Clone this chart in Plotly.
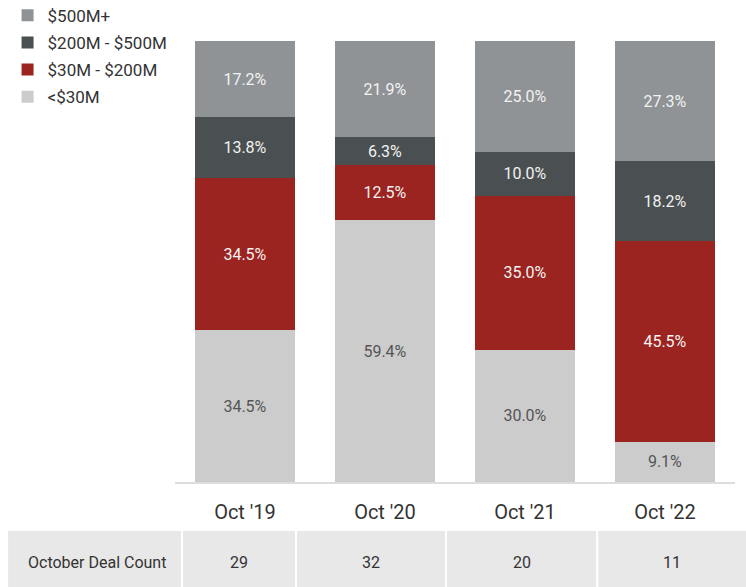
import plotly.graph_objects as go

categories = ["Oct '19", "Oct '20", "Oct '21", "Oct '22"]
series_names = ["<$30M", "$30M - $200M", "$200M - $500M", "$500M+"]
under_30 = [34.5, 59.4, 30.0, 9.1]
m30_200 = [34.5, 12.5, 35.0, 45.5]
m200_500 = [13.8, 6.3, 10.0, 18.2]
over_500 = [17.2, 21.9, 25.0, 27.3]
deal_counts = [29, 32, 20, 11]
table_label = "October Deal Count"

series_values = [under_30, m30_200, m200_500, over_500]
colors = ["#cccccc", "#9b2420", "#4a5051", "#8f9396"]
text_colors = ["#555555", "#f2f2f2", "#f2f2f2", "#f2f2f2"]

FONT = "Roboto"

fig = go.Figure()
n = len(series_names)
for i, (name, vals, c, tc) in enumerate(zip(series_names, series_values, colors, text_colors)):
    fig.add_trace(go.Bar(
        x=categories, y=vals, name=name, legendgroup=name,
        legendrank=1000 + (n - i),
        marker=dict(color=c, line=dict(width=0)),
        text=[f"{v:.1f}%" for v in vals],
        textposition="inside", insidetextanchor="middle", textangle=0,
        textfont=dict(color=tc, size=16, family=FONT),
        hoverinfo="skip",
    ))

# Table underneath (deal count row)
row_top, row_bot = -0.1111, -0.245
table_left, table_right = -0.298, 1.03
seps = [0.0125, 0.216, 0.484, 0.754]
fig.add_shape(type="rect", xref="paper", yref="paper",
              x0=table_left, x1=table_right, y0=row_bot, y1=row_top,
              fillcolor="#e8e8e8", line=dict(width=0), layer="below")
for xs in seps:
    fig.add_shape(type="line", xref="paper", yref="paper",
                  x0=xs, x1=xs, y0=row_bot, y1=row_top,
                  line=dict(color="#ffffff", width=2))
fig.add_annotation(xref="paper", yref="paper", x=-0.139, y=-0.182,
                   xanchor="center", yanchor="middle",
                   text=table_label, showarrow=False,
                   font=dict(size=16, color="#333333", family=FONT))
edges = seps + [1.0195]
for i, cnt in enumerate(deal_counts):
    fig.add_annotation(xref="paper", yref="paper", x=(edges[i] + edges[i + 1]) / 2,
                       y=-0.182, xanchor="center", yanchor="middle",
                       text=str(cnt), showarrow=False,
                       font=dict(size=16, color="#333333", family=FONT))

fig.update_layout(
    width=746, height=587,
    barmode="stack", bargap=0.286,
    margin=dict(l=175, r=11, t=41, b=105, autoexpand=False),
    plot_bgcolor="white", paper_bgcolor="white",
    font=dict(family=FONT, color="#333333"),
    showlegend=True,
    legend=dict(x=-0.299, y=1.098, xanchor="left", yanchor="top",
                traceorder="grouped", font=dict(size=17, color="#333333", family=FONT),
                bgcolor="rgba(0,0,0,0)", tracegroupgap=2, itemwidth=30),
    xaxis=dict(showgrid=False, showline=True, linecolor="#dddddd", linewidth=2,
               ticks="", tickfont=dict(size=20, color="#333333", family=FONT),
               ticklabelstandoff=11, range=[-0.5, 3.5]),
    yaxis=dict(visible=False, range=[0, 100.1]),
)

fig.write_html("out.html", config={"displayModeBar": False},
               post_script="document.body.style.margin='0';")
